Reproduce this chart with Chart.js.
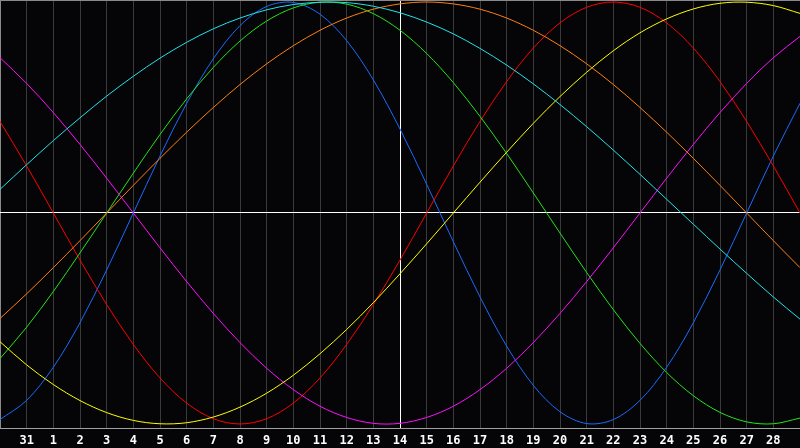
<!DOCTYPE html>
<html>
<head>
<meta charset="utf-8">
<script src="https://cdn.jsdelivr.net/npm/chart.js@4"></script>
<style>
html,body{margin:0;padding:0;background:#050508;}
canvas{display:block;}
</style>
</head>
<body>
<canvas id="c" width="800" height="448"></canvas>
<script>
// Day labels along the bottom (first and last positions are unlabeled edges)
const dayLabels = ['', '31', '1', '2', '3', '4', '5', '6', '7', '8', '9', '10', '11', '12', '13', '14',
  '15', '16', '17', '18', '19', '20', '21', '22', '23', '24', '25', '26', '27', '28', ''];

// Curve values (percent, -100..100), one per day position
const blueVals    = [-97.9,-88.8,-73.1,-52.0,-27.0,0,27.0,52.0,73.1,88.8,97.9,99.8,94.2,81.7,63.1,39.8,13.6,-13.6,-39.8,-63.1,-81.7,-94.2,-99.8,-97.9,-88.8,-73.1,-52.0,-27.0,0,27.0,52.0];
const redVals     = [43.4,22.3,0,-22.3,-43.4,-62.3,-78.2,-90.1,-97.5,-100,-97.5,-90.1,-78.2,-62.3,-43.4,-22.3,0,22.3,43.4,62.3,78.2,90.1,97.5,100,97.5,90.1,78.2,62.3,43.4,22.3,0];
const greenVals   = [-69.0,-54.1,-37.2,-18.9,0,18.9,37.2,54.1,69.0,81.5,91.0,97.2,99.9,99.0,94.5,86.6,75.6,61.8,45.8,28.2,9.5,-9.5,-28.2,-45.8,-61.8,-75.6,-86.6,-94.5,-99.0,-99.9,-97.2];
const magentaVals = [73.6,61.4,47.6,32.5,16.5,0,-16.5,-32.5,-47.6,-61.4,-73.6,-83.7,-91.6,-96.9,-99.7,-99.7,-96.9,-91.6,-83.7,-73.6,-61.4,-47.6,-32.5,-16.5,0,16.5,32.5,47.6,61.4,73.6,83.7];
const yellowVals  = [-61.0,-72.0,-81.3,-88.9,-94.6,-98.3,-99.9,-99.4,-96.7,-92.0,-85.4,-76.9,-66.7,-55.2,-42.5,-28.8,-14.6,0,14.6,28.8,42.5,55.2,66.7,76.9,85.4,92.0,96.7,99.4,99.9,98.3,94.6];
const orangeVals  = [-50.0,-38.3,-25.9,-13.1,0,13.1,25.9,38.3,50.0,60.9,70.7,79.3,86.6,92.4,96.6,99.1,100,99.1,96.6,92.4,86.6,79.3,70.7,60.9,50.0,38.3,25.9,13.1,0,-13.1,-25.9];
const cyanVals    = [11.2,22.9,34.3,45.1,55.4,64.8,73.4,80.9,87.3,92.4,96.3,98.8,99.9,99.7,98.0,94.9,90.5,84.9,78.0,70.1,61.2,51.4,40.9,29.8,18.3,6.5,-5.3,-17.1,-28.6,-39.8,-50.3];

const seriesList = [
  {data: cyanVals,    color: '#22e4ea'},
  {data: orangeVals,  color: '#ff8010'},
  {data: yellowVals,  color: '#ffff00'},
  {data: magentaVals, color: '#ff10ff'},
  {data: greenVals,   color: '#22e61a'},
  {data: redVals,     color: '#ff0000'},
  {data: blueVals,    color: '#1a6cff'}
];

const TODAY_INDEX = 15;
const Y_MIN = -101.9, Y_MAX = 100.95;

new Chart(document.getElementById('c'), {
  type: 'line',
  data: {
    labels: dayLabels,
    datasets: seriesList.map(s => ({
      data: s.data,
      borderColor: s.color,
      borderWidth: 1,
      pointRadius: 0,
      pointHoverRadius: 0,
      fill: false,
      tension: 0.33
    }))
  },
  options: {
    responsive: false,
    animation: false,
    devicePixelRatio: 1,
    layout: {padding: 0},
    plugins: {legend: {display: false}, tooltip: {enabled: false}},
    events: [],
    scales: {
      x: {
        type: 'category',
        offset: false,
        border: {display: false},
        grid: {
          offset: false,
          drawTicks: false,
          lineWidth: 1,
          color: ctx => {
            const i = ctx.index;
            if (i === 0) return '#8a8a8a';
            if (i === TODAY_INDEX) return '#ffffff';
            if (i === dayLabels.length - 1) return 'rgba(0,0,0,0)';
            return '#3a3a3a';
          }
        },
        ticks: {
          autoSkip: false,
          maxRotation: 0,
          minRotation: 0,
          padding: 6,
          color: '#ffffff',
          font: {family: '"DejaVu Sans Mono", monospace', size: 12, weight: 'bold'}
        },
        afterFit: s => { s.height = 20; s.paddingLeft = 0; s.paddingRight = 0; }
      },
      y: {
        min: Y_MIN,
        max: Y_MAX,
        border: {display: false},
        ticks: {display: false},
        grid: {
          drawTicks: false,
          lineWidth: 1,
          color: ctx => {
            const v = ctx.tick.value;
            if (v === 0) return '#ffffff';
            if (v === Y_MIN) return '#a0a0a0';
            return '#8a8a8a';
          }
        },
        afterBuildTicks: s => { s.ticks = [{value: Y_MIN}, {value: 0}, {value: Y_MAX}]; },
        afterFit: s => { s.width = 0; }
      }
    }
  }
});
</script>
</body>
</html>
